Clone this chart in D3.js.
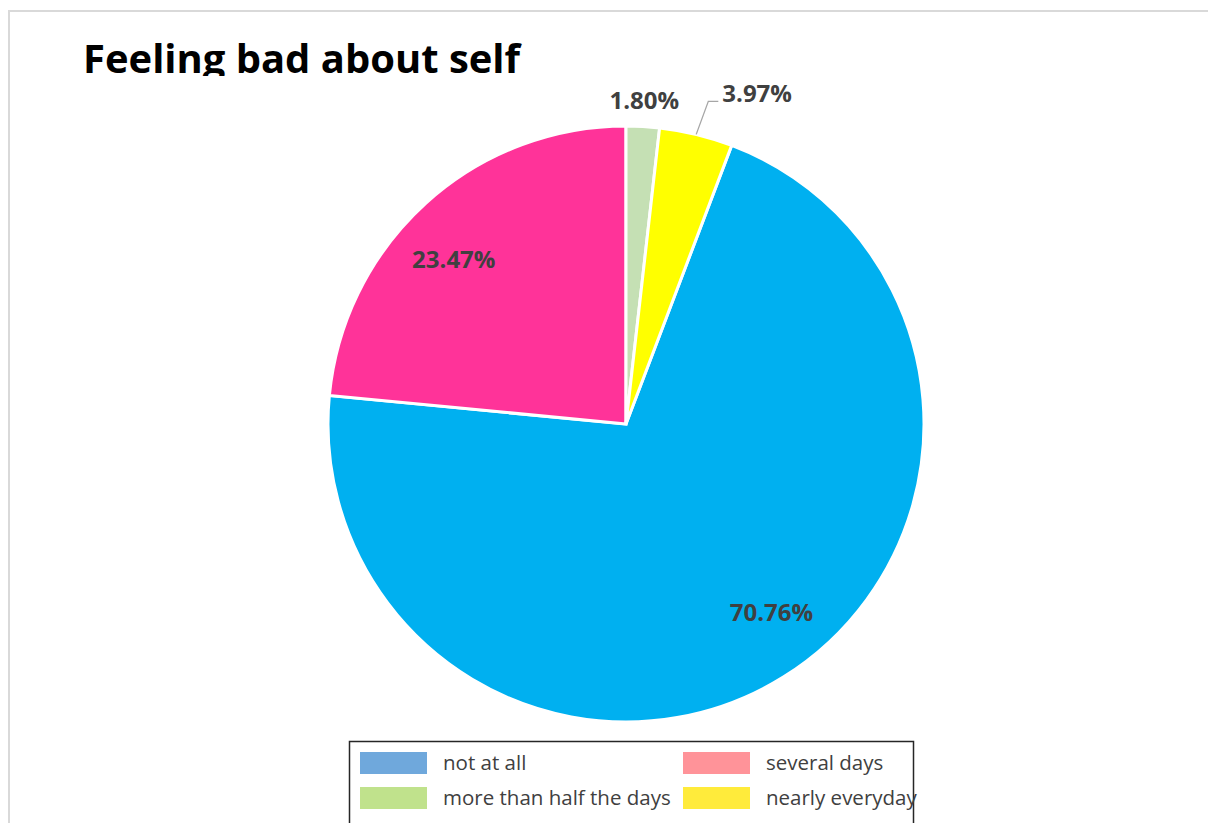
<!DOCTYPE html>
<html>
<head>
<meta charset="utf-8">
<script src="https://cdn.jsdelivr.net/npm/d3@7"></script>
<style>
  html, body { margin: 0; padding: 0; background: #fff; }
  svg { display: block; }
</style>
</head>
<body>
<svg id="chart" width="1208" height="823"></svg>
<script>
// ---- data ----
const title = "Feeling bad about self";
const categories = ["not at all", "several days", "more than half the days", "nearly everyday"];
const values = [70.76, 23.47, 1.80, 3.97];
const labels = ["70.76%", "23.47%", "1.80%", "3.97%"];
const sliceColors = ["#00b0f0", "#ff3399", "#c5e0b4", "#ffff00"];
const legendColors = ["#6fa8dc", "#ff9399", "#c0e28c", "#ffeb3b"];
// clockwise drawing order starting at 12 o'clock
const sliceOrder = ["more than half the days", "nearly everyday", "not at all", "several days"];

// ---- layout ----
const W = 1208, H = 823;
const cx = 626, cy = 424, R = 298;
const svg = d3.select("#chart");

// outer chart border (clipped by viewport on right/bottom)
svg.append("rect")
  .attr("x", 9).attr("y", 11)
  .attr("width", W + 20).attr("height", H + 20)
  .attr("fill", "none").attr("stroke", "#d9d9d9").attr("stroke-width", 2);

// title, clipped at bottom
const defs = svg.append("defs");
defs.append("clipPath").attr("id", "titleClip")
  .append("rect").attr("x", 0).attr("y", 0).attr("width", W).attr("height", 76);
svg.append("text")
  .attr("clip-path", "url(#titleClip)")
  .attr("x", 83).attr("y", 73)
  .attr("font-family", "'Open Sans', sans-serif")
  .attr("font-weight", 700)
  .attr("font-size", 39)
  .attr("textLength", 437)
  .attr("lengthAdjust", "spacingAndGlyphs")
  .attr("fill", "#000")
  .text(title);

// ---- pie ----
const data = categories.map((c, i) => ({ cat: c, value: values[i], label: labels[i], color: sliceColors[i] }));
const pie = d3.pie()
  .value(d => d.value)
  .sort((a, b) => sliceOrder.indexOf(a.cat) - sliceOrder.indexOf(b.cat));
const arcs = pie(data);
const arc = d3.arc().innerRadius(0).outerRadius(R);

const g = svg.append("g").attr("transform", `translate(${cx},${cy})`);
g.selectAll("path.slice")
  .data(arcs)
  .join("path")
  .attr("class", "slice")
  .attr("d", arc)
  .attr("fill", d => d.data.color)
  .attr("stroke", "#fff")
  .attr("stroke-width", 3)
  .attr("stroke-linejoin", "miter");

// ---- data labels ----
const labelFont = "'Open Sans', sans-serif";
const outsideArc = d3.arc().innerRadius(R + 26).outerRadius(R + 26);
const mid = d => (d.startAngle + d.endAngle) / 2;

arcs.forEach(d => {
  const small = d.data.value < 5;
  let x, y, anchor = "middle";
  if (!small) {
    // Excel "best fit" puts labels slightly toward the slice centre line
    const a = mid(d) + (d.data.value > 50 ? -0.10 : -0.07);
    x = Math.sin(a) * R * 0.8;
    y = -Math.cos(a) * R * 0.8;
  } else if (d.data.value < 2) {
    [x, y] = outsideArc.centroid(d);
  } else {
    // leader line
    const a = mid(d);
    const p0 = [Math.sin(a) * R, -Math.cos(a) * R];
    const p1 = [Math.sin(a + 0.012) * (R + 35), -Math.cos(a + 0.012) * (R + 35)];
    const p2 = [p1[0] + 10, p1[1]];
    g.append("polyline")
      .attr("points", [p0, p1, p2].map(p => p.join(",")).join(" "))
      .attr("fill", "none").attr("stroke", "#a6a6a6").attr("stroke-width", 1.3);
    x = p2[0] + 4; y = p1[1] - 8;
    anchor = "start";
  }
  g.append("text")
    .attr("x", x).attr("y", y)
    .attr("dy", "0.35em")
    .attr("text-anchor", anchor)
    .attr("font-family", labelFont)
    .attr("font-weight", 700)
    .attr("font-size", 24)
    .attr("fill", "#404040")
    .text(d.data.label);
});

// ---- legend ----
const legend = svg.append("g");
legend.append("rect")
  .attr("x", 349.5).attr("y", 741.5)
  .attr("width", 564).attr("height", 100)
  .attr("fill", "#fff").attr("stroke", "#262626").attr("stroke-width", 1.5);

const colX = [360, 683];
const rowY = [752, 787];
categories.forEach((c, i) => {
  const col = i % 2, row = Math.floor(i / 2);
  legend.append("rect")
    .attr("x", colX[col]).attr("y", rowY[row])
    .attr("width", 67).attr("height", 22)
    .attr("fill", legendColors[i]);
  legend.append("text")
    .attr("x", colX[col] + 83).attr("y", rowY[row] + 11)
    .attr("dy", "0.35em")
    .attr("font-family", "'Open Sans', sans-serif")
    .attr("font-size", 20.5)
    .attr("fill", "#404040")
    .text(c);
});
</script>
</body>
</html>
